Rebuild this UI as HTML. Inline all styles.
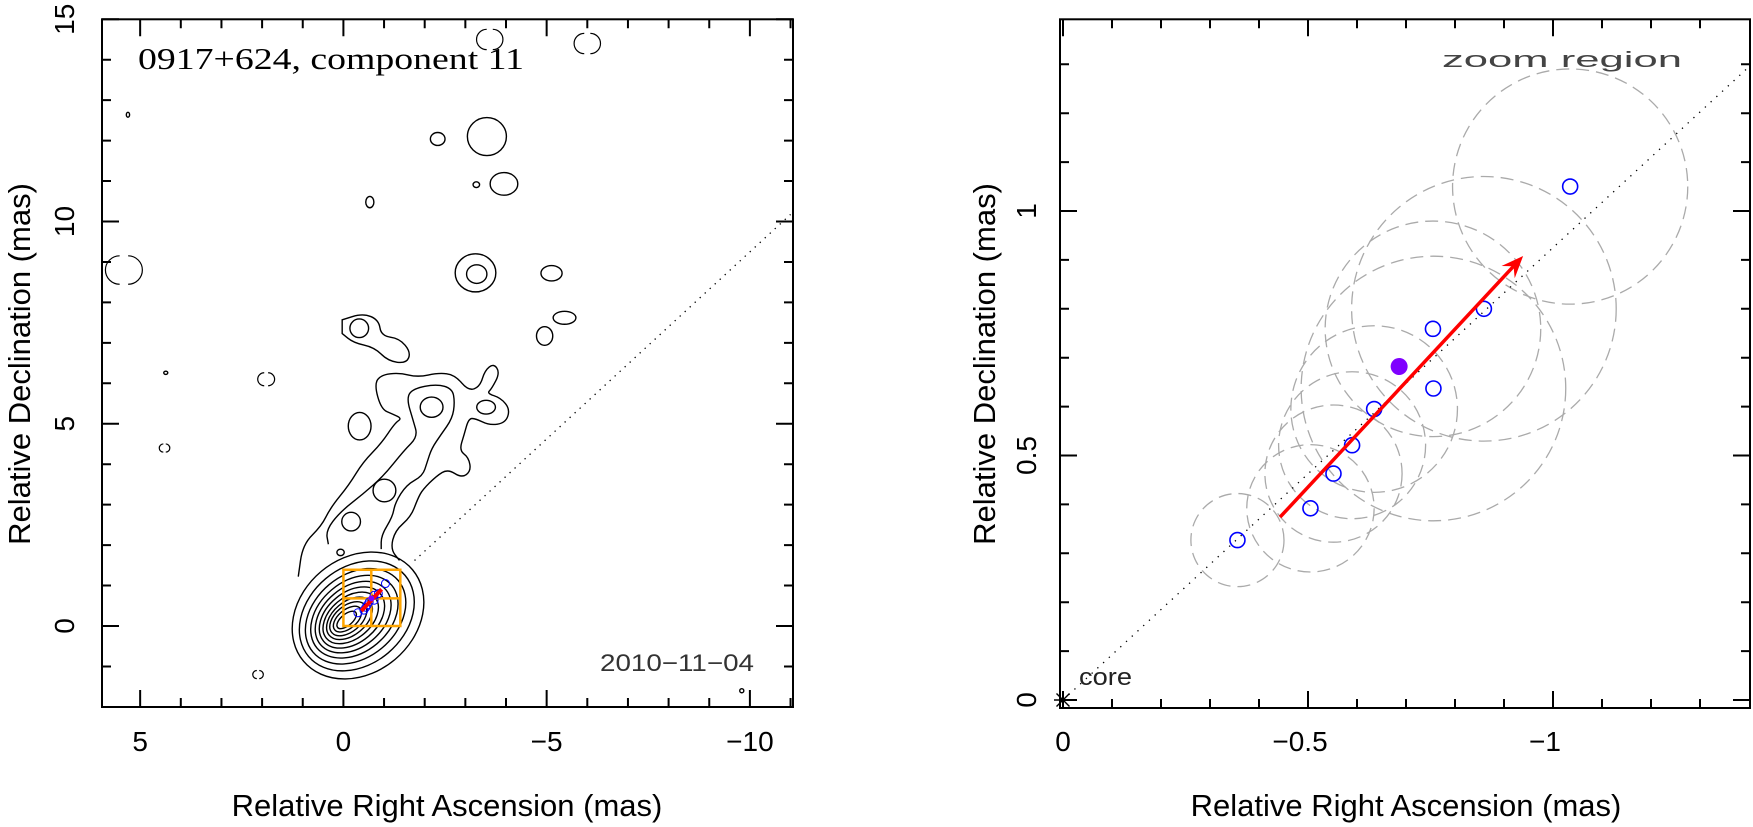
<!DOCTYPE html>
<html><head><meta charset="utf-8"><style>
body{margin:0;background:#fff}
svg{display:block;font-family:"Liberation Sans",sans-serif}
</style></head><body>
<svg id="c" width="1753" height="827" viewBox="0 0 1753 827" xmlns="http://www.w3.org/2000/svg">
<g id="L"></g>
<g id="R"></g>
</svg>
<script>
// ---------- data ----------
const compX = [-0.356,-0.505,-0.552,-0.590,-0.635,-0.755,-0.756,-0.859,-1.035];
const compY = [0.327,0.392,0.463,0.521,0.595,0.759,0.637,0.800,1.050];
const compErr = [0.095,0.13,0.14,0.15,0.17,0.22,0.27,0.27,0.24];
const meanX = [-0.686];
const meanY = [0.682];
const arrowX = [-0.443,-0.939];
const arrowY = [0.374,0.908];
const pathSlope = [-0.925];
const zoomBoxX = [0,-1.4];
const zoomBoxY = [0,1.39];
const leftXTicks = [5,0,-5,-10];
const leftYTicks = [0,5,10,15];
const rightXTicks = [0,-0.5,-1];
const rightYTicks = [0,0.5,1];
const rightXLabels = ["0","\u22120.5","\u22121"];
const rightYLabels = ["0","0.5","1"];
const leftXLabels = ["5","0","\u22125","\u221210"];
const leftYLabels = ["0","5","10","15"];
// core contour ellipses (mas)
const coreRx = [1.75,1.55,1.37,1.20,1.05,0.91,0.78,0.65,0.53,0.41,0.29];
const coreRy = [1.42,1.20,1.02,0.87,0.74,0.62,0.51,0.41,0.32,0.23,0.14];
const coreCx = [-0.36,-0.33,-0.30,-0.27,-0.24,-0.21,-0.18,-0.15,-0.12,-0.10,-0.08];
const coreCy = [0.26,0.25,0.24,0.23,0.22,0.21,0.20,0.19,0.18,0.17,0.15];
// jet contours (mas)
const jetOuterX=[1.11,1.00,0.54,0.32,-0.14,-0.48,-0.93,-1.27,-1.44,-1.21,-0.93,-0.76,-0.93,-1.38,-1.83,-2.34,-2.74,-3.08,-3.36,-3.48,-3.70,-3.85,-3.65,-3.53,-3.87,-4.10,-3.99,-3.59,-3.25,-3.08,-2.97,-2.85,-3.08,-3.14,-2.91,-2.57,-2.29,-1.95,-1.83,-1.66,-1.27,-1.16,-1.38];
const jetOuterY=[1.22,2.02,2.47,2.92,3.49,4.05,4.51,5.02,5.13,5.24,5.36,5.98,6.21,6.26,6.15,6.26,6.21,5.81,5.92,6.32,6.49,6.26,5.87,5.75,5.64,5.36,5.02,4.96,5.13,5.13,4.73,4.34,4.17,3.83,3.66,3.88,3.71,3.37,3.15,2.70,2.36,1.90,1.62];
const jetInnerX=[0.37,0.43,0.09,-0.48,-0.99,-1.49,-1.83,-1.72,-1.55,-1.72,-2.29,-2.68,-2.74,-2.68,-2.40,-2.17,-2.06,-1.95,-1.55,-1.27,-1.21,-0.93,-0.93];
const jetInnerY=[2.02,2.36,2.81,3.26,3.71,4.34,4.68,5.07,5.64,5.87,5.98,5.87,5.53,5.13,4.73,4.39,4.05,3.71,3.49,3.04,2.70,2.24,1.90];
const blobUpX=[0.03,-0.48,-0.87,-0.93,-1.38,-1.66,-1.55,-1.10,-0.76,-0.25,0.03];
const blobUpY=[7.57,7.73,7.57,7.17,7.11,6.77,6.49,6.55,6.89,7.00,7.23];
const blobCx=[-2.17,-3.51,-0.40,-1.01,-0.19,0.07,-0.39,-3.25,-3.28,-5.12,-5.44,-4.95,-0.65,-3.27,-3.95,-2.32,-3.53,5.30,4.37,-9.8];
const blobCy=[5.41,5.41,4.94,3.35,2.58,1.82,7.36,8.73,8.70,8.72,7.62,7.17,10.48,10.91,10.93,12.04,12.10,12.64,6.26,-1.6];
const blobRx=[0.28,0.23,0.28,0.28,0.23,0.09,0.23,0.50,0.25,0.26,0.28,0.20,0.10,0.08,0.34,0.18,0.48,0.04,0.05,0.05];
const blobRy=[0.25,0.17,0.34,0.28,0.23,0.08,0.23,0.47,0.23,0.19,0.16,0.23,0.14,0.07,0.28,0.16,0.47,0.06,0.04,0.05];
const arcCx=[-3.6,-6.0,5.4,1.9,4.4,2.1];
const arcCy=[14.5,14.4,8.8,6.1,4.4,-1.2];
const arcR=[0.25,0.25,0.35,0.16,0.1,0.1];

// ---------- axes ----------
const lx = x => 343.4 - x*40.65;
const ly = y => 626 - y*40.45;
const rx = x => 1063 - x*490;
const ry = y => 700 - y*489;
const NS='http://www.w3.org/2000/svg';
function el(parent,tag,attrs,text){
  const e=document.createElementNS(NS,tag);
  for(const k in attrs) e.setAttribute(k,attrs[k]);
  if(text!==undefined) e.textContent=text;
  parent.appendChild(e); return e;
}
const L=document.getElementById('L'), R=document.getElementById('R');

function frame(g,x0,y0,x1,y1,xmaj,xmin,ymaj,ymin,fx,fy){
  const f=el(g,'rect',{x:x0,y:y0,width:x1-x0,height:y1-y0,fill:'none',stroke:'#000','stroke-width':2});
  
  
  let d='';
  xmin.forEach(v=>{const p=fx(v);if(p>x0+1&&p<x1-1)d+=`M${p} ${y1}v-9M${p} ${y0}v9`;});
  xmaj.forEach(v=>{const p=fx(v);d+=`M${p} ${y1}v-17M${p} ${y0}v17`;});
  ymin.forEach(v=>{const p=fy(v);if(p>y0+1&&p<y1-1)d+=`M${x0} ${p}h9M${x1} ${p}h-9`;});
  ymaj.forEach(v=>{const p=fy(v);d+=`M${x0} ${p}h17M${x1} ${p}h-17`;});
  const t=el(g,'path',{d:d,stroke:'#000','stroke-width':2,fill:'none'});
  
  
}
function range(a,b,s){const r=[];for(let v=a;v>=b-1e-9;v-=s)r.push(+v.toFixed(3));return r;}
function range2(a,b,s){const r=[];for(let v=a;v<=b+1e-9;v+=s)r.push(+v.toFixed(3));return r;}

// ---------- LEFT PANEL ----------
const cg=el(L,'g',{fill:'none',stroke:'#000','stroke-width':1.4});


coreRx.forEach((r,i)=>{
  const e=el(cg,'ellipse',{cx:lx(coreCx[i]),cy:ly(coreCy[i]),rx:r*40.65,ry:coreRy[i]*40.45,transform:`rotate(-40 ${lx(coreCx[i])} ${ly(coreCy[i])})`});
  
  
});
function poly(g,xs,ys,close,name){
  const pts=xs.map((x,i)=>[lx(x),ly(ys[i])]);
  let d='M'+pts[0].join(' ');
  for(let i=1;i<pts.length;i++){
    const p0=pts[i-1],p1=pts[i];
    const mx=(p0[0]+p1[0])/2,my=(p0[1]+p1[1])/2;
    d+=` Q${p0[0]} ${p0[1]} ${mx} ${my}`;
  }
  d+=' L'+pts[pts.length-1].join(' ');
  if(close)d+='Z';
  const e=el(g,'path',{d:d});
  
  
}
poly(cg,jetOuterX,jetOuterY,false,'jet-outer-contour');
poly(cg,jetInnerX,jetInnerY,false,'jet-inner-contour');
poly(cg,blobUpX,blobUpY,true,'jet-blob-contour');
blobCx.forEach((x,i)=>{
  const e=el(cg,'ellipse',{cx:lx(x),cy:ly(blobCy[i]),rx:blobRx[i]*40.65,ry:blobRy[i]*40.45});
  
  
});
arcCx.forEach((x,i)=>{
  const r=arcR[i]*40.6, c=lx(x), m=ly(arcCy[i]);
  const e=el(cg,'path',{d:`M${c-r*0.3} ${m-r}A${r} ${r} 0 0 0 ${c-r*0.3} ${m+r}M${c+r*0.3} ${m+r}A${r} ${r} 0 0 0 ${c+r*0.3} ${m-r}`,'stroke-width':1.2});
  
  
});
const xEndL=-11, xStartL=-1.75;
const dl=el(L,'line',{x1:lx(xStartL),y1:ly(pathSlope[0]*xStartL),x2:lx(xEndL),y2:ly(pathSlope[0]*xEndL),stroke:'#000','stroke-width':1.3,'stroke-dasharray':'1.3 5.5'});


const zb=el(L,'g',{stroke:'#ffa500','stroke-width':2.5,fill:'none'});


el(zb,'rect',{x:lx(zoomBoxX[0]),y:ly(zoomBoxY[1]),width:lx(zoomBoxX[1])-lx(zoomBoxX[0]),height:ly(zoomBoxY[0])-ly(zoomBoxY[1])});
el(zb,'line',{x1:lx(meanX[0]),x2:lx(meanX[0]),y1:ly(zoomBoxY[0]),y2:ly(zoomBoxY[1])});
el(zb,'line',{y1:ly(meanY[0]),y2:ly(meanY[0]),x1:lx(zoomBoxX[0]),x2:lx(zoomBoxX[1])});
compX.forEach((x,i)=>{
  const e=el(L,'circle',{cx:lx(x),cy:ly(compY[i]),r:4,fill:'none',stroke:'#00f','stroke-width':1});
  
  
});
const la=el(L,'line',{x1:lx(arrowX[0]),y1:ly(arrowY[0]),x2:lx(arrowX[1]),y2:ly(arrowY[1]),stroke:'#f00','stroke-width':4});


const lm=el(L,'circle',{cx:lx(meanX[0]),cy:ly(meanY[0]),r:3,fill:'#7f00ff'});



frame(L,102,19.3,793,707,leftXTicks,range(6,-11,1),leftYTicks,range2(-2,15,1),lx,ly);
leftXTicks.forEach((v,i)=>{
  const t=el(L,'text',{x:lx(v),y:751,'font-size':28,'text-anchor':'middle'},leftXLabels[i]);
  
  
});
leftYTicks.forEach((v,i)=>{
  const t=el(L,'text',{x:0,y:0,'font-size':28,'text-anchor':'middle',transform:`translate(74 ${ly(v)}) rotate(-90)`},leftYLabels[i]);
  
  
});
let t;
t=el(L,'text',{x:447,y:816,'font-size':31,'text-anchor':'middle'},'Relative Right Ascension (mas)');


t=el(L,'text',{x:0,y:0,'font-size':31,'text-anchor':'middle',transform:'translate(30 364) rotate(-90)'},'Relative Declination (mas)');


t=el(L,'text',{x:138,y:69,'font-size':31,'font-family':'"Liberation Serif",serif','textLength':386,'lengthAdjust':'spacingAndGlyphs'},'0917+624, component 11');


t=el(L,'text',{x:600,y:671,'font-size':24,fill:'#333','textLength':154,'lengthAdjust':'spacingAndGlyphs'},'2010\u221211\u221204');



// ---------- RIGHT PANEL ----------
const cp=el(R,'clipPath',{id:'rclip'});
el(cp,'rect',{x:1060,y:19,width:690,height:689});
const rg=el(R,'g',{'clip-path':'url(#rclip)'});
compX.forEach((x,i)=>{
  const e=el(rg,'circle',{cx:rx(x),cy:ry(compY[i]),r:compErr[i]*490,fill:'none',stroke:'#aaa','stroke-width':1.3,'stroke-dasharray':'13 7'});
  
  
});
const xEndR=-1.42;
const dr=el(rg,'line',{x1:rx(0),y1:ry(0),x2:rx(xEndR),y2:ry(pathSlope[0]*xEndR),stroke:'#000','stroke-width':1.3,'stroke-dasharray':'1.3 6.5'});


compX.forEach((x,i)=>{
  const e=el(rg,'circle',{cx:rx(x),cy:ry(compY[i]),r:7.5,fill:'none',stroke:'#00f','stroke-width':1.6});
  
  
});
const mp=el(rg,'circle',{cx:rx(meanX[0]),cy:ry(meanY[0]),r:8.5,fill:'#7f00ff'});


const ax0=rx(arrowX[0]),ay0=ry(arrowY[0]),ax1=rx(arrowX[1]),ay1=ry(arrowY[1]);
const ang=Math.atan2(ay1-ay0,ax1-ax0);
const ag=el(rg,'g',{});


el(ag,'line',{x1:ax0,y1:ay0,x2:ax1-10*Math.cos(ang),y2:ay1-10*Math.sin(ang),stroke:'#f00','stroke-width':3.5});
const hl=22,hw=9;
const bx=ax1-hl*Math.cos(ang),by=ay1-hl*Math.sin(ang);
el(ag,'path',{d:`M${ax1} ${ay1}L${bx+hw*Math.sin(ang)} ${by-hw*Math.cos(ang)}L${ax1-14*Math.cos(ang)} ${ay1-14*Math.sin(ang)}L${bx-hw*Math.sin(ang)} ${by+hw*Math.cos(ang)}Z`,fill:'#f00'});
const cs=el(R,'path',{d:`M${rx(0)-9} ${ry(0)}h18M${rx(0)} ${ry(0)-9}v18M${rx(0)-6.5} ${ry(0)-6.5}l13 13M${rx(0)-6.5} ${ry(0)+6.5}l13 -13`,stroke:'#000','stroke-width':1.4});



frame(R,1060,19.3,1750,708,rightXTicks,range(0,-1.4,0.1),rightYTicks,range2(0,1.3,0.1),rx,ry);
rightXTicks.forEach((v,i)=>{
  const e=el(R,'text',{x:rx(v)-(i>0?8:0),y:751,'font-size':28,'text-anchor':'middle'},rightXLabels[i]);
  
  
});
rightYTicks.forEach((v,i)=>{
  const e=el(R,'text',{x:0,y:0,'font-size':28,'text-anchor':'middle',transform:`translate(1036 ${ry(v)}) rotate(-90)`},rightYLabels[i]);
  
  
});
t=el(R,'text',{x:1406,y:816,'font-size':31,'text-anchor':'middle'},'Relative Right Ascension (mas)');


t=el(R,'text',{x:0,y:0,'font-size':31,'text-anchor':'middle',transform:'translate(995 364) rotate(-90)'},'Relative Declination (mas)');


t=el(R,'text',{x:1442,y:67,'font-size':22,fill:'#444','textLength':240,'lengthAdjust':'spacingAndGlyphs'},'zoom region');


t=el(R,'text',{x:1079,y:685,'font-size':24,fill:'#222','textLength':53,'lengthAdjust':'spacingAndGlyphs'},'core');


</script>
</body></html>
